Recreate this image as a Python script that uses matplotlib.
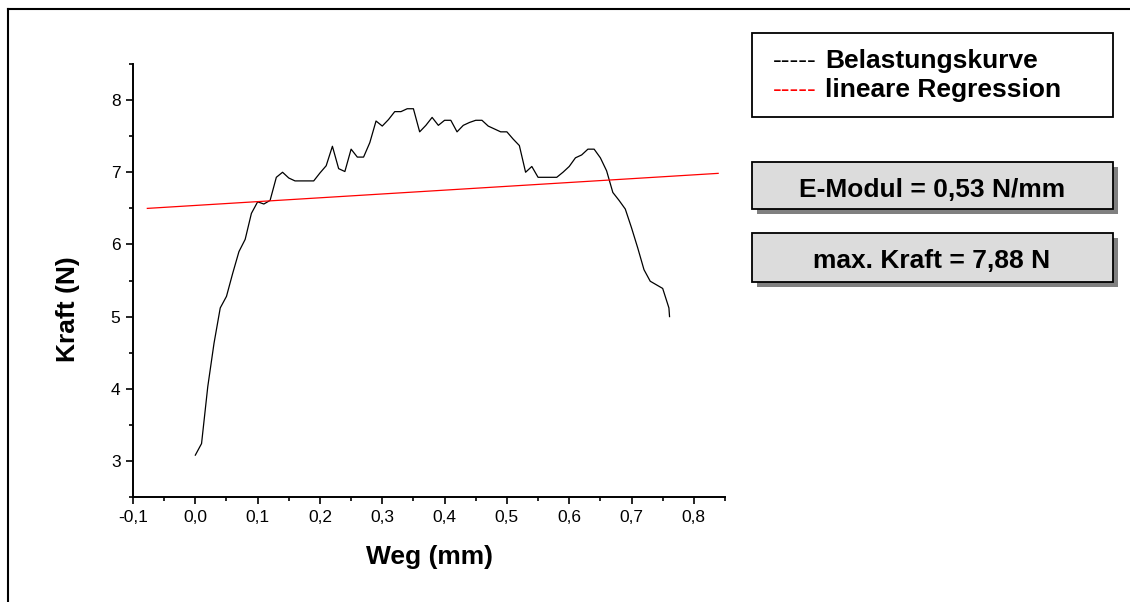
import matplotlib.pyplot as plt
from matplotlib.patches import Rectangle
from matplotlib.lines import Line2D
from matplotlib.ticker import MultipleLocator, FuncFormatter

plt.rcParams['font.family'] = ['Liberation Sans', 'DejaVu Sans']

# Belastungskurve (Weg in mm, Kraft in N)
weg = [0.00, 0.01, 0.02, 0.03, 0.04, 0.05, 0.06, 0.07, 0.08, 0.09,
       0.10, 0.11, 0.12, 0.13, 0.14, 0.15, 0.16, 0.17, 0.18, 0.19,
       0.20, 0.21, 0.22, 0.23, 0.24, 0.25, 0.26, 0.27, 0.28, 0.29,
       0.30, 0.31, 0.32, 0.33, 0.34, 0.35, 0.36, 0.37, 0.38, 0.39,
       0.40, 0.41, 0.42, 0.43, 0.44, 0.45, 0.46, 0.47, 0.48, 0.49,
       0.50, 0.51, 0.52, 0.53, 0.54, 0.55, 0.56, 0.57, 0.58, 0.59,
       0.60, 0.61, 0.62, 0.63, 0.64, 0.65, 0.66, 0.67, 0.68, 0.69,
       0.70, 0.71, 0.72, 0.73, 0.74, 0.75, 0.76, 0.761]
kraft = [3.08, 3.24, 4.03, 4.63, 5.12, 5.28, 5.60, 5.90, 6.07, 6.43,
         6.59, 6.56, 6.61, 6.93, 7.00, 6.92, 6.88, 6.88, 6.88, 6.88,
         6.99, 7.09, 7.36, 7.05, 7.01, 7.32, 7.21, 7.21, 7.41, 7.71,
         7.64, 7.73, 7.84, 7.84, 7.88, 7.88, 7.56, 7.65, 7.76, 7.65,
         7.72, 7.72, 7.56, 7.65, 7.69, 7.72, 7.72, 7.64, 7.60, 7.56,
         7.56, 7.46, 7.37, 7.00, 7.08, 6.93, 6.93, 6.93, 6.93, 7.00,
         7.08, 7.20, 7.24, 7.32, 7.32, 7.20, 7.02, 6.72, 6.61, 6.49,
         6.23, 5.95, 5.65, 5.49, 5.44, 5.39, 5.12, 5.00]

# lineare Regression
reg_x = [-0.077, 0.839]
steigung = 0.53
achsenabschnitt = 6.54
reg_y = [achsenabschnitt + steigung * x for x in reg_x]

e_modul_text = "E-Modul = 0,53 N/mm"
max_kraft_text = "max. Kraft = 7,88 N"

W, H = 1130, 602
fig = plt.figure(figsize=(W / 100, H / 100), dpi=100)


def fx(px):
    return px / W


def fy(py):
    return 1 - py / H


ax = fig.add_axes([fx(133), fy(497), (725 - 133) / W, (497 - 64) / H])
ax.plot(weg, kraft, color='black', lw=0.9)
ax.plot(reg_x, reg_y, color='red', lw=0.9)

ax.set_xlim(-0.1, 0.85)
ax.set_ylim(2.5, 8.5)
ax.xaxis.set_major_locator(MultipleLocator(0.1))
ax.xaxis.set_minor_locator(MultipleLocator(0.05))
ax.yaxis.set_major_locator(MultipleLocator(1))
ax.yaxis.set_minor_locator(MultipleLocator(0.5))
ax.xaxis.set_major_formatter(FuncFormatter(lambda v, p: f"{v:.1f}".replace('.', ',').replace('-0,0', '0,0')))
ax.yaxis.set_major_formatter(FuncFormatter(lambda v, p: f"{v:.0f}"))

for s in ['top', 'right']:
    ax.spines[s].set_visible(False)
for s in ['left', 'bottom']:
    ax.spines[s].set_linewidth(1.4)
ax.tick_params(which='major', direction='out', length=5, width=1.2, labelsize=12.5, pad=4)
ax.tick_params(which='minor', direction='out', length=2.8, width=1.2)

fig.text(fx(430), fy(557), "Weg (mm)", fontsize=19, fontweight='bold', ha='center', va='center')
fig.text(fx(68), fy(309), "Kraft (N)", fontsize=19, fontweight='bold', ha='center', va='center',
         rotation=90)

# Seitenrahmen
fig.add_artist(Line2D([fx(8), fx(W)], [fy(9), fy(9)], color='black', lw=1.5))
fig.add_artist(Line2D([fx(8), fx(8)], [fy(9), fy(H)], color='black', lw=1.5))

# Legende
fig.add_artist(Rectangle((fx(752), fy(117)), (1113 - 752) / W, (117 - 33) / H,
                         facecolor='white', edgecolor='black', lw=1.3))
fig.text(fx(773), fy(68), "-----", fontsize=19, color='black', va='baseline')
fig.text(fx(825), fy(68), "Belastungskurve", fontsize=19, fontweight='bold', va='baseline')
fig.text(fx(773), fy(97), "-----", fontsize=19, color='red', va='baseline')
fig.text(fx(825), fy(97), "lineare Regression", fontsize=19, fontweight='bold', va='baseline')

# Ergebnisboxen
for top, bottom, txt, base in [(162, 209, e_modul_text, 197), (233, 282, max_kraft_text, 268)]:
    fig.add_artist(Rectangle((fx(757), fy(bottom + 5)), (1113 - 752) / W, (bottom - top) / H,
                             facecolor='#808080', edgecolor='none'))
    fig.add_artist(Rectangle((fx(752), fy(bottom)), (1113 - 752) / W, (bottom - top) / H,
                             facecolor='#dcdcdc', edgecolor='black', lw=1.3))
    fig.text(fx(932), fy(base), txt, fontsize=19, fontweight='bold', ha='center', va='baseline')

fig.savefig("out.png", dpi=100)
